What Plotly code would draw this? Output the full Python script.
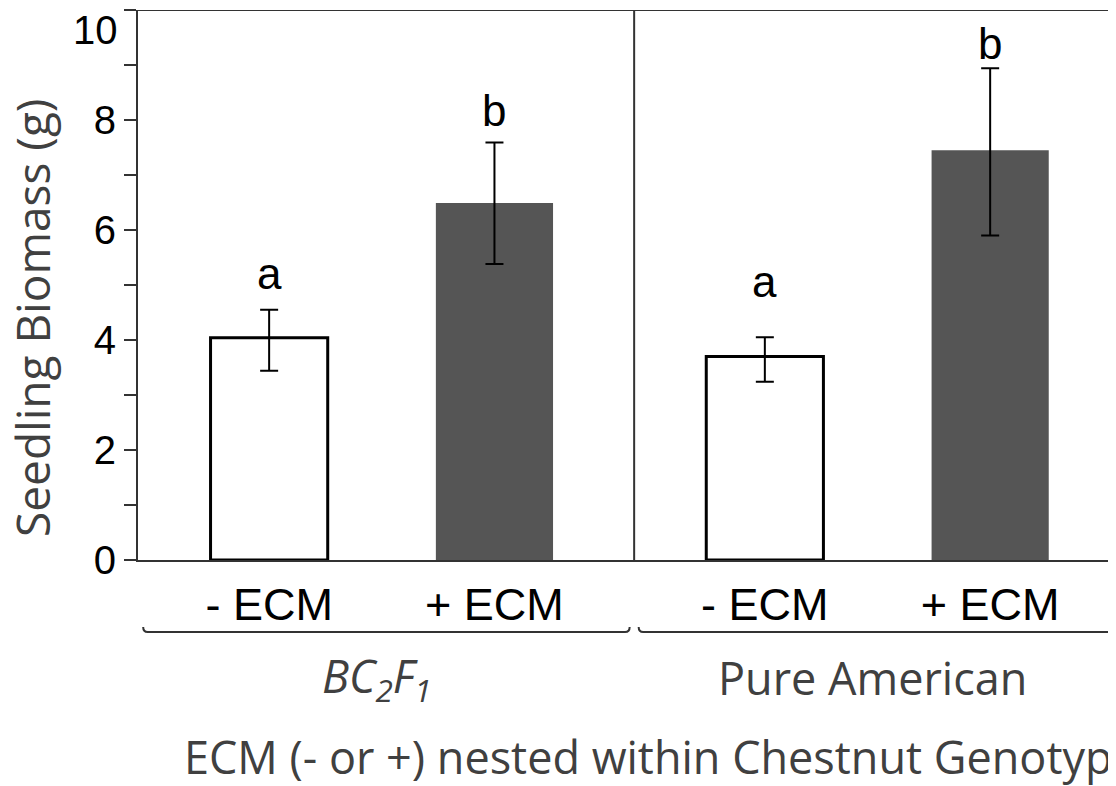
import plotly.graph_objects as go

# ---- data ----
genotypes = ["BC<sub>2</sub>F<sub>1</sub>", "Pure American"]
treatments = ["- ECM", "+ ECM"]
biomass = [4.04, 6.49, 3.70, 7.45]          # g, bar means
err_plus = [0.51, 1.10, 0.35, 1.49]
err_minus = [0.60, 1.11, 0.46, 1.55]
letters = ["a", "b", "a", "b"]
letter_y = [4.91, 7.87, 4.76, 9.09]          # baseline of significance letters
y_ticks = [0, 2, 4, 6, 8, 10]

# ---- layout helpers ----
GROUP_STEP = 2.2
positions = []
labels = []
for g, _ in enumerate(genotypes):
    for i, t in enumerate(treatments):
        positions.append(g * GROUP_STEP + i)
        labels.append(t)

fills = ["white", "#555555", "white", "#555555"]
outlines = ["black", "#555555", "black", "#555555"]
outline_w = [3, 0, 3, 0]

ARIAL = "Liberation Sans, Arial, sans-serif"
CALIBRI = "Open Sans, sans-serif"
AX = "#333333"
GRAY_TXT = "#404040"

fig = go.Figure()
fig.add_trace(go.Bar(
    x=positions, y=biomass, width=0.52,
    marker=dict(color=fills, line=dict(color=outlines, width=outline_w)),
    error_y=dict(type="data", symmetric=False, array=err_plus, arrayminus=err_minus,
                 color="black", thickness=2, width=9),
    showlegend=False, hoverinfo="y",
))

x_range = [-0.582, 3.794]
divider = (positions[1] + positions[2]) / 2 + 0.02

shapes = [
    # top border
    dict(type="line", xref="paper", yref="y", x0=0, x1=1, y0=10, y1=10,
         line=dict(color=AX, width=2)),
    # divider between genotypes
    dict(type="line", xref="x", yref="y", x0=divider, x1=divider, y0=0, y1=10,
         line=dict(color=AX, width=2)),
]

# brackets under the tick labels
yb, yc = -0.1309, -0.1218
edges = [x_range[0] + 0.023, divider - 0.02, divider + 0.02, x_range[1] + 0.2]
for k in range(len(genotypes)):
    x0, x1 = edges[2 * k], edges[2 * k + 1]
    d = 0.02
    path = (f"M {x0},{yc} Q {x0},{yb} {x0 + d},{yb} L {x1 - d},{yb} "
            f"Q {x1},{yb} {x1},{yc}")
    shapes.append(dict(type="path", xref="x", yref="paper", path=path,
                       line=dict(color=AX, width=2)))

annotations = []
for x, l, ly in zip(positions, letters, letter_y):
    annotations.append(dict(x=x, y=ly, xref="x", yref="y", text=l, showarrow=False,
                            yanchor="bottom", yshift=-10,
                            font=dict(family=ARIAL, size=44, color="black")))

for g, name in enumerate(genotypes):
    cx = (positions[2 * g] + positions[2 * g + 1]) / 2
    txt = f"<i>{name}</i>" if g == 0 else name
    annotations.append(dict(x=cx, y=-0.214, xref="x", yref="paper", text=txt,
                            showarrow=False, yanchor="middle", xshift=-5,
                            font=dict(family=CALIBRI, size=45, color=GRAY_TXT)))

annotations.append(dict(x=0, y=-0.358, xref="paper", yref="paper", xshift=44,
                        text="ECM (- or +) nested within Chestnut Genotype",
                        showarrow=False, xanchor="left", yanchor="middle",
                        font=dict(family=CALIBRI, size=45, color=GRAY_TXT)))
annotations.append(dict(x=0, y=0.5, xref="paper", yref="paper", xshift=-106, yshift=-33,
                        text="Seedling Biomass (g)", textangle=-90,
                        showarrow=False, xanchor="center", yanchor="middle",
                        font=dict(family=CALIBRI, size=46, color=GRAY_TXT)))

# top tick label sits just below the axis end (as in the original figure)
tick_text = [str(v) for v in y_ticks]
top_label = tick_text[-1]
tick_text[-1] = ""
annotations.append(dict(x=0, y=y_ticks[-1], xref="paper", yref="y", text=top_label,
                        showarrow=False, xanchor="right", yanchor="top", xshift=-18, yshift=4,
                        font=dict(family=ARIAL, size=40, color="black")))

fig.update_layout(
    width=1116, height=786,
    margin=dict(l=130, r=0, t=2, b=234),
    paper_bgcolor="white", plot_bgcolor="white",
    shapes=shapes, annotations=annotations,
    xaxis=dict(range=x_range, tickvals=positions, ticktext=labels, automargin=False,
               showgrid=False, zeroline=False, showline=True, linecolor=AX, linewidth=2,
               ticks="outside", ticklen=4, tickcolor="rgba(0,0,0,0)",
               tickfont=dict(family=ARIAL, size=45, color="black")),
    yaxis=dict(range=[0, 10], tickvals=y_ticks, ticktext=tick_text,
               showgrid=False, zeroline=False,
               automargin=False, ticklabeloverflow="allow",
               showline=True, linecolor=AX, linewidth=2,
               ticks="outside", ticklen=12, tickwidth=2, tickcolor=AX,
               minor=dict(dtick=1, ticks="outside", ticklen=12, tickwidth=2, tickcolor=AX,
                          showgrid=False),
               tickfont=dict(family=ARIAL, size=40, color="black")),
)

fig.write_html("out.html")
